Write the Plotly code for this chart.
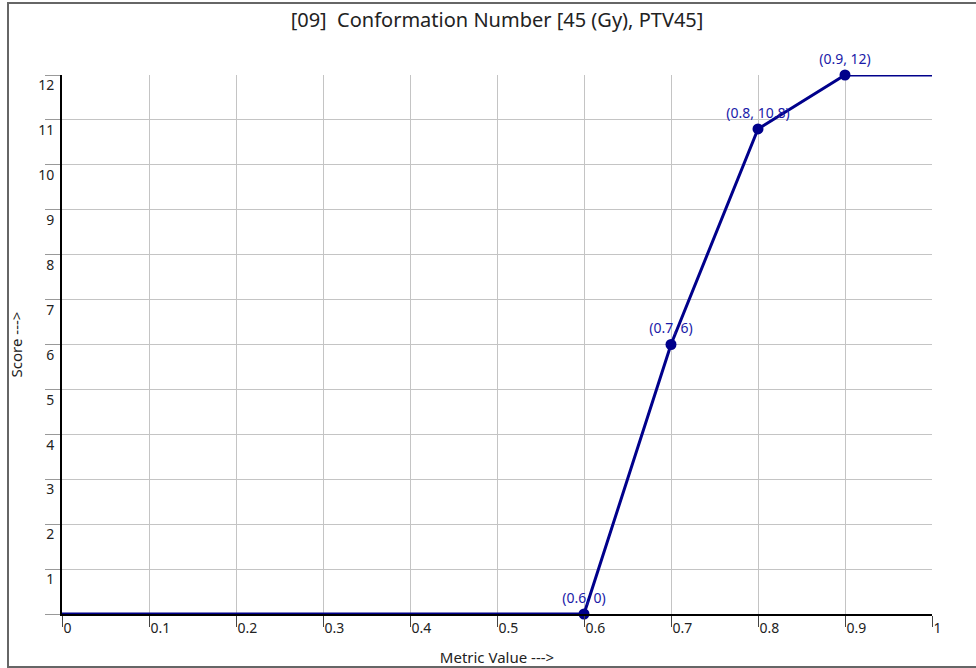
import plotly.graph_objects as go

metric_values = [0, 0.6, 0.7, 0.8, 0.9, 1.0]
scores = [0, 0, 6, 10.8, 12, 12]
point_x = [0.6, 0.7, 0.8, 0.9]
point_y = [0, 6, 10.8, 12]
point_labels = ["(0.6, 0)", "(0.7, 6)", "(0.8, 10.8)", "(0.9, 12)"]
x_ticks = [0, 0.1, 0.2, 0.3, 0.4, 0.5, 0.6, 0.7, 0.8, 0.9, 1]
x_tick_labels = ["0", "0.1", "0.2", "0.3", "0.4", "0.5", "0.6", "0.7", "0.8", "0.9", "1"]
y_ticks = list(range(0, 13))
y_tick_labels = [""] + [str(v) for v in range(1, 13)]

FONT = "Segoe UI, Noto Sans, sans-serif"
NAVY = "#00008B"

fig = go.Figure()
fig.add_trace(go.Scatter(
    x=metric_values, y=scores, mode="lines",
    line=dict(color=NAVY, width=3), hoverinfo="skip", showlegend=False,
    cliponaxis=False,
))
fig.add_trace(go.Scatter(
    x=point_x, y=point_y, mode="markers+text",
    marker=dict(color=NAVY, size=11),
    text=point_labels, textposition="top center",
    textfont=dict(family=FONT, size=14, color="#1a1aa8"),
    showlegend=False, cliponaxis=False,
))

L, R, T, B = 62, 44, 75, 54
W, H = 976, 668
pw, ph = W - L - R, H - T - B

def px_x(p):
    return (p - L) / pw

def px_y(p):
    return (H - B - p) / ph

fig.add_shape(type="rect", xref="paper", yref="paper",
              x0=px_x(8), x1=px_x(980), y0=px_y(667), y1=px_y(3),
              line=dict(color="#666666", width=2), fillcolor="rgba(0,0,0,0)", layer="below")

fig.update_layout(
    width=W, height=H,
    margin=dict(l=L, r=R, t=T, b=B, autoexpand=False),
    paper_bgcolor="white", plot_bgcolor="white",
    font=dict(family=FONT, size=14, color="#222222"),
    title=dict(text="[09]  Conformation Number [45 (Gy), PTV45]",
               x=0.5, xref="paper", xanchor="center",
               y=1 - 20 / H, yanchor="middle",
               font=dict(family=FONT, size=20, color="#222222")),
    xaxis=dict(
        range=[0, 1], tickvals=x_ticks, ticktext=x_tick_labels,
        showgrid=True, gridcolor="#c4c4c4", gridwidth=1,
        showline=True, linecolor="black", linewidth=2,
        ticks="outside", ticklen=11, tickcolor="#444444", tickwidth=1,
        ticklabelposition="outside right",
        tickfont=dict(family=FONT, size=14, color="#222222"),
        zeroline=False,
        title=dict(text="Metric Value --->", standoff=17,
                   font=dict(family=FONT, size=15, color="#222222")),
        fixedrange=True,
    ),
    yaxis=dict(
        range=[0, 12], tickvals=y_ticks, ticktext=y_tick_labels,
        showgrid=True, gridcolor="#c4c4c4", gridwidth=1,
        showline=True, linecolor="black", linewidth=2,
        ticks="outside", ticklen=15, tickcolor="#999999", tickwidth=1,
        ticklabelposition="outside bottom", ticklabelstandoff=3,
        tickfont=dict(family=FONT, size=14, color="#222222"),
        zeroline=False,
        title=dict(text="Score --->", standoff=12,
                   font=dict(family=FONT, size=15, color="#222222")),
        fixedrange=True,
    ),
)

fig.write_html("out.html", config={"displayModeBar": False},
               post_script="document.body.style.margin='0px';")
